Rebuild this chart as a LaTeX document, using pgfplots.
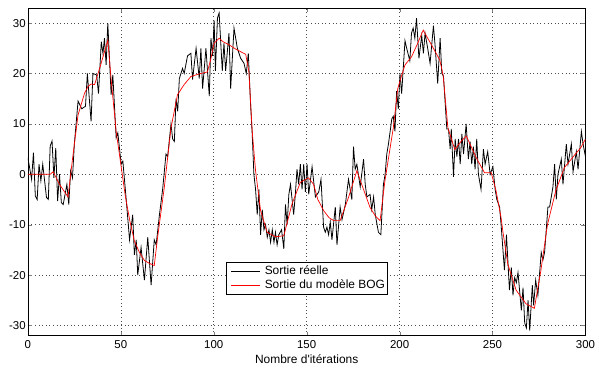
\documentclass[border=0pt]{standalone}
\usepackage{fontspec}
\setmainfont{Liberation Sans}
\usepackage{pgfplots}
\pgfplotsset{compat=1.18}
\begin{document}
\fontsize{12pt}{14pt}\selectfont
\begin{tikzpicture}
\begin{axis}[
  scale only axis, width=560pt, height=329pt,
  xmin=0, xmax=300, ymin=-32, ymax=33,
  xtick={0,50,...,300}, ytick={-30,-20,...,30},
  tick align=inside, tick pos=both,
  major tick length=4pt,
  grid=major, grid style={black!70, line width=0.5pt, dash pattern=on 0.6pt off 3pt},
  axis line style={black, line width=0.6pt},
  /pgf/number format/assume math mode=true,
  ticklabel style={font=\fontsize{11.5pt}{13pt}\selectfont},
  xticklabel style={yshift=-1pt},
  yticklabel style={xshift=2pt},
  xlabel={Nombre d\textquotesingle itérations},
  xlabel style={font=\fontsize{12pt}{14pt}\selectfont, yshift=2pt},
  legend cell align=left,
  legend style={at={(0.355,0.226)}, anchor=north west, draw=black, line width=0.6pt,
    font=\fontsize{12pt}{14pt}\selectfont, inner xsep=1pt, inner ysep=2pt, row sep=0pt,
    nodes={inner sep=1.8pt}},
  legend image code/.code={\path[draw=none, fill=none] (0pt,0pt) -- (36pt,0pt); \draw[#1, line width=0.7pt] (4pt,0pt) -- (33pt,0pt);},
]
\addplot[black, line width=0.8pt] coordinates {
(0,3.3)(2,-1)(3,4.3)(4,-4.3)(5,-5)(6,2)(7,-1.3)(8,2)(10,-4.6)(11,-5)(12,5.6)(13,6.6)(14,-0.7)(15,5.2)(16,-5.3)(17,0)(18,-5.6)(19,-6)(21,-2)(22,-6)(23,0.7)(24,-0.7)(25,6)(27,14.5)(29,13)(31,13.5)(32,20)(34,10.5)(35,20)(37,19.7)(38,16)(39.5,26.3)(40.4,24)(41.2,27)(42.1,21.7)(43,30)(44.8,15.8)(45.7,19.7)(47.5,7.2)(48.4,8.2)(50.2,2)(51.1,2.6)(52.9,-5)(54.7,-13)(56.4,-8)(57.3,-16)(58.3,-13)(59.1,-20)(60.9,-14.5)(62.7,-21)(64.5,-12.5)(66.3,-22)(68,-13)(69,-14)(70.8,-8)(72.5,-3)(74.3,4)(75.2,3.5)(77,10)(77.9,7)(78.8,6.5)(79.7,15)(80.6,12.5)(81.5,19)(83.2,21)(84.1,20)(85.9,23.5)(87.7,24)(88.6,18.8)(90.5,25)(92.2,19)(93.1,25)(94,17)(95.8,25)(97.6,15.5)(98.5,27)(99.4,23.5)(100.2,30.5)(100.9,20.5)(102,31)(102.9,32)(104.6,20.5)(105.5,26)(106.4,20.5)(108.2,28)(109.1,17)(110.9,29)(112.7,25)(114.5,23)(116.3,22)(117.5,20)(118.6,24)(119.8,14)(120.7,8)(121.6,0)(122.5,-3)(123.4,-8)(124.3,-3)(125.2,-12)(126.1,-7)(127,-11)(127.9,-10)(128.8,-12.5)(129.7,-11)(130.6,-13.5)(131.5,-11)(132.4,-13.5)(133.2,-11.5)(134.1,-14)(135,-12)(136.5,-11)(137.7,-14.8)(138.6,-6)(139.5,-10)(140.4,-4)(141.3,-2)(143,-8)(143.9,-4)(144.8,1)(145.7,-2)(146.6,2)(147.5,-3)(148.4,2)(149.3,-3.5)(150.2,2)(151.1,-4)(152.9,1.5)(154.7,-4.5)(156.5,-3.5)(157.7,-1)(159.1,-10.5)(160,-11.5)(160.9,-10.5)(161.8,-12)(162.7,-9.5)(163.6,-13)(165.4,-6.5)(166.3,-14)(168,-6.5)(169,-9)(170.8,-6)(172.5,-1)(174.3,-5)(175.2,5.5)(176.1,1)(177,2)(178.8,-2.5)(180.6,3)(181.5,-2)(182.4,-4.5)(184.1,-4)(185,-7)(186,-4.5)(186.9,-8)(188.6,-11.5)(189.9,-12)(191.3,-2)(192.2,0)(193.1,4)(194,6)(195.8,11)(196.6,11.5)(197.5,8.5)(198.4,16.5)(199.3,13)(200.2,20)(201.1,16)(202.9,26.5)(203.8,25)(205.5,22.5)(206.4,28)(207.3,29)(208.2,27)(209.1,31)(210.4,23)(211.9,27.5)(212.8,24)(213.7,28)(215.1,25)(216.4,22)(218.2,29.5)(219.1,25.5)(220.5,18)(221.8,27)(222.7,20)(223.6,19.5)(225.4,9)(226.3,9)(227.2,5)(227.8,9)(229,-0.5)(229.9,7)(230.8,3.5)(231.7,7)(232.6,2)(233.5,8)(234.4,4)(235.8,10)(237,3)(237.9,6.5)(238.8,2)(239.7,5.5)(240.6,1)(241.5,7)(242.4,0)(243.8,-3)(245.1,5)(246,2)(247.4,4.5)(248.7,0)(250.2,1.5)(251.4,-3)(252.3,-5)(253.8,-6.5)(254.6,-10)(256.4,-19)(257.5,-12)(259.1,-23)(260.1,-18.5)(261,-24)(261.9,-20.5)(262.8,-21.5)(263.7,-19.5)(265.5,-27)(266.4,-22.5)(267.3,-29.5)(268.2,-30.5)(269.1,-25)(270,-31)(271.4,-22)(272.1,-26)(273.2,-21)(274.4,-24)(276.2,-15.5)(277.1,-17)(278,-15.5)(279.8,-6.5)(280.7,-6.5)(282.5,-2.5)(283.4,2)(284.3,-5)(285.2,0)(287,3)(287.9,-2)(289.7,6)(290.6,2)(292.4,6)(293.3,0.5)(295.1,4.5)(296,1)(297.8,8.5)(298.7,6)(300,3.5)
};
\addlegendentry{Sortie réelle}
\addplot[red, line width=0.7pt] coordinates {
(0,0)(12,0)(13.6,0.5)(17,-2)(21.6,-4.5)(24,3)(27,11.8)(28,13)(30.5,16.1)(32.5,17.5)(34.1,17.9)(35.9,17.8)(39,21.5)(43,26.6)(45,18)(47.5,8.5)(50,2)(52.5,-4.5)(55,-9.5)(57.3,-13.2)(60,-15.5)(62.7,-17.1)(65,-17.6)(68,-18.1)(69.8,-12.5)(73.4,-2.6)(77,9.2)(80.5,15.8)(84.1,17.8)(87.7,19.4)(92,19.9)(96.6,20.3)(98.5,23)(100.2,26)(102.9,27)(105,26.3)(108.2,25.7)(112,24.8)(117.2,23.8)(118.9,20.4)(120.7,8.5)(122.5,0.7)(125.2,-7.2)(128.7,-11.5)(133.2,-12.4)(137.7,-12.2)(142.1,-5.9)(146.6,-1.6)(151,-0.7)(153.7,-2)(156,-5)(159.1,-7.2)(162,-8.6)(164.5,-9.2)(168,-9.2)(172.5,-4.6)(177,0.7)(179.6,-2)(184.1,-6.6)(187,-8.3)(189.5,-9.2)(192.1,-1.3)(196.6,9.2)(199,17)(201,19.5)(202.9,21.7)(206.4,23.3)(209.5,25.8)(212.7,28.6)(217.1,25.7)(221.6,22.7)(223.4,19.7)(226,9.2)(229.7,4.9)(233,6.5)(235.9,7.6)(241.2,3.3)(245.7,0.3)(249.3,0.3)(251.9,-3.3)(254.6,-8.6)(255.5,-11.2)(258.2,-17.8)(262.7,-23)(268,-25.7)(272.5,-26.6)(276,-19.1)(279.6,-9.9)(284,-3.3)(288.6,1.3)(293,3.3)(297.5,5.3)(300,7)
};
\addlegendentry{Sortie du modèle BOG}
\end{axis}
\path (current axis.south west) ++(-28pt,-32pt) coordinate (bbA);
\path (current axis.north east) ++(11pt,8pt) coordinate (bbB);
\useasboundingbox (bbA) rectangle (bbB);
\end{tikzpicture}
\end{document}
